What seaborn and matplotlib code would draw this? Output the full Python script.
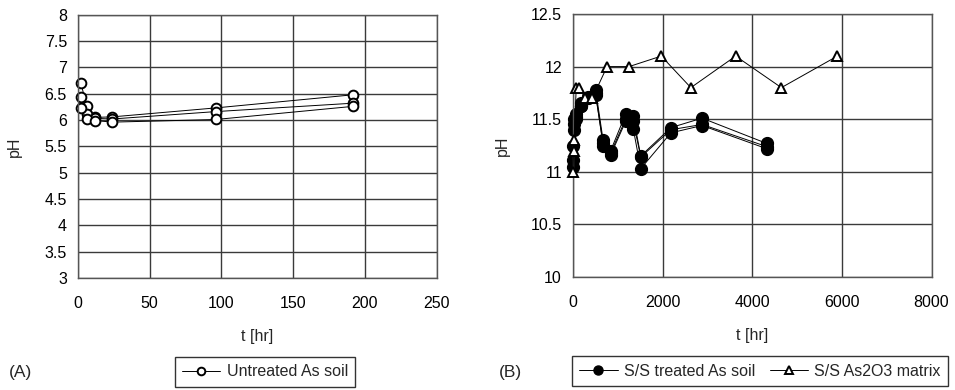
import matplotlib
matplotlib.use("Agg")
import matplotlib.pyplot as plt
import seaborn as sns
import pandas as pd
from matplotlib.lines import Line2D

# ---------------- data ----------------
# Panel A: untreated As soil (three replicates)
t_untreated = [2, 6, 12, 24, 96, 192]
ph_untreated_1 = [6.71, 6.26, 6.05, 6.06, 6.23, 6.48]
ph_untreated_2 = [6.44, 6.12, 6.03, 6.02, 6.16, 6.32]
ph_untreated_3 = [6.22, 6.01, 5.99, 5.96, 6.01, 6.26]

# Panel B: S/S treated As soil (three replicates)
t_treated = [0, 24, 72, 168, 336, 504, 672, 840, 1176, 1344, 1512, 2184, 2880, 4320]
ph_treated_1 = [11.05, 11.40, 11.55, 11.63, 11.70, 11.78, 11.30, 11.20, 11.55, 11.53, 11.15, 11.42, 11.51, 11.27]
ph_treated_2 = [11.11, 11.45, 11.50, 11.63, 11.71, 11.73, 11.27, 11.18, 11.50, 11.48, 11.14, 11.40, 11.45, 11.24]
ph_treated_3 = [11.25, 11.50, 11.52, 11.65, 11.70, 11.75, 11.25, 11.16, 11.48, 11.41, 11.03, 11.37, 11.44, 11.22]

# Panel B: S/S As2O3 matrix
t_matrix = [0, 12, 24, 72, 144, 264, 432, 760, 1250, 1970, 2630, 3630, 4650, 5900]
ph_matrix = [11.0, 11.2, 11.3, 11.8, 11.8, 11.7, 11.7, 12.0, 12.0, 12.1, 11.8, 12.1, 11.8, 12.1]

xticks_a = [0, 50, 100, 150, 200, 250]
yticks_a = [3, 3.5, 4, 4.5, 5, 5.5, 6, 6.5, 7, 7.5, 8]
xticks_b = [0, 2000, 4000, 6000, 8000]
yticks_b = [10, 10.5, 11, 11.5, 12, 12.5]

# ---------------- style ----------------
sns.set_theme(style="white")
plt.rcParams['font.family'] = ['Liberation Sans', 'DejaVu Sans']
FS = 11.5

fig = plt.figure(figsize=(9.55, 3.9), dpi=100)
W, H = 955, 390
axA = fig.add_axes([78 / W, 1 - 278 / H, (436.7 - 78) / W, (278 - 14.7) / H])
axB = fig.add_axes([573 / W, 1 - 277 / H, (931.5 - 573) / W, (277 - 14) / H])


def fmt(v):
    return f"{v:g}"


def style_axes(ax, xt, yt, ylab_x):
    ax.set_xlim(xt[0], xt[-1])
    ax.set_ylim(yt[0], yt[-1])
    ax.set_xticks(xt)
    ax.set_yticks(yt)
    ax.set_xticklabels([fmt(v) for v in xt])
    ax.set_yticklabels([fmt(v) for v in yt])
    ax.grid(True, color='#3a3a3a', linewidth=1.0)
    ax.set_axisbelow(True)
    for s in ax.spines.values():
        s.set_color('#555555')
        s.set_linewidth(1.0)
    ax.tick_params(axis='both', direction='out', length=4, width=1.0, color='#555555',
                   labelsize=FS, labelcolor='black')
    ax.tick_params(axis='x', pad=9)
    ax.tick_params(axis='y', pad=4)
    ax.set_ylabel('pH', fontsize=FS)
    ax.yaxis.set_label_coords(ylab_x, 0.5)
    ax.set_xlabel('t [hr]', fontsize=FS, labelpad=13)


open_circle = dict(marker='o', markersize=7, markerfacecolor='white',
                   markeredgecolor='black', markeredgewidth=1.4,
                   color='black', linewidth=0.7, clip_on=False)
filled_circle = dict(marker='o', markersize=8.5, markerfacecolor='black',
                     markeredgecolor='black', markeredgewidth=1.0,
                     color='black', linewidth=0.7, clip_on=False)
open_tri = dict(marker='^', markersize=7, markerfacecolor='white',
                markeredgecolor='black', markeredgewidth=1.4,
                color='black', linewidth=0.7, clip_on=False)

for ph in (ph_untreated_1, ph_untreated_2, ph_untreated_3):
    df = pd.DataFrame({'t': t_untreated, 'pH': ph})
    sns.lineplot(data=df, x='t', y='pH', ax=axA, sort=False, estimator=None, **open_circle)

for ph in (ph_treated_1, ph_treated_2, ph_treated_3):
    df = pd.DataFrame({'t': t_treated, 'pH': ph})
    sns.lineplot(data=df, x='t', y='pH', ax=axB, sort=False, estimator=None, **filled_circle)

dfm = pd.DataFrame({'t': t_matrix, 'pH': ph_matrix})
sns.lineplot(data=dfm, x='t', y='pH', ax=axB, sort=False, estimator=None, zorder=3, **open_tri)

style_axes(axA, xticks_a, yticks_a, (22 - 78) / 358.7)
style_axes(axB, xticks_b, yticks_b, (510 - 573) / 358.5)

# ---------------- legends ----------------
legkw = dict(frameon=True, fancybox=False, edgecolor='black', fontsize=FS,
             handlelength=2.4, handletextpad=0.4, borderpad=0.45, columnspacing=0.9,
             borderaxespad=0)
noclip = lambda d: {k: v for k, v in d.items() if k != 'clip_on'}
hA = [Line2D([], [], **{**noclip(open_circle), 'markersize': 5.5})]
legA = fig.legend(hA, ['Untreated As soil'], loc='center', bbox_to_anchor=(265 / W, 1 - 372 / H), **legkw)
hB = [Line2D([], [], **{**noclip(filled_circle), 'markersize': 6.5}),
      Line2D([], [], **{**noclip(open_tri), 'markersize': 5.5})]
legB = fig.legend(hB, ['S/S treated As soil', 'S/S As2O3 matrix'], ncol=2, loc='center',
                  bbox_to_anchor=(760 / W, 1 - 371 / H), **legkw)
for lg in (legA, legB):
    lg.get_frame().set_linewidth(1.0)

fig.text(20 / W, 1 - 373 / H, '(A)', ha='center', va='center', fontsize=12.5)
fig.text(510 / W, 1 - 373 / H, '(B)', ha='center', va='center', fontsize=12.5)

fig.savefig('out.png', dpi=100)
